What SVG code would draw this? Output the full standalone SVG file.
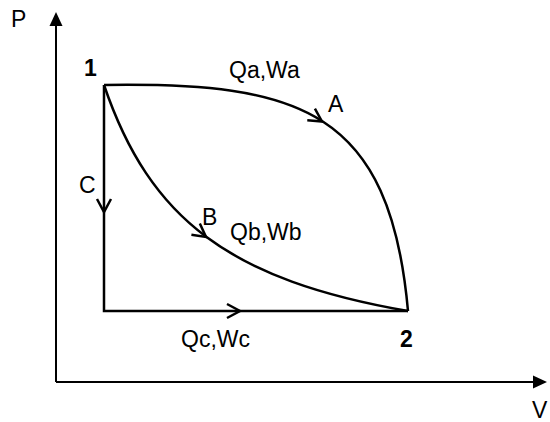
<svg xmlns="http://www.w3.org/2000/svg" width="550" height="422" viewBox="0 0 550 422">
<style>
.ln{fill:none;stroke:#000;stroke-width:2.5;stroke-linejoin:miter}
.ax{fill:none;stroke:#000;stroke-width:2}
.t{font-family:"Liberation Sans",Arial,sans-serif;font-size:23px;fill:#000}
.b{font-weight:bold}
</style>
<defs>
<path id="chev" d="M-13,-7 L0,0 L-13,7" fill="none" stroke="#000" stroke-width="2.5"/>
<path id="tri" d="M0,0 L-14,-6.5 L-14,6.5 Z" fill="#000"/>
</defs>
<rect width="550" height="422" fill="#fff"/>
<g id="axes">
<line class="ax" x1="56" y1="382" x2="56" y2="22"/>
<use href="#tri" transform="translate(56,12) rotate(-90)"/>
<line class="ax" x1="56" y1="382" x2="537" y2="382"/>
<use href="#tri" transform="translate(547,382)"/>
<text class="t" x="11" y="27">P</text>
<text class="t" x="532" y="418">V</text>
</g>
<g id="connectors">
<path id="pathA" class="ln" d="M104,85 C300,82 390,110 408,311"/>
<use href="#chev" transform="translate(322,121.5) rotate(33)"/>
<path id="pathB" class="ln" d="M104,85 C150,220 230,280 408,311"/>
<use href="#chev" transform="translate(206,237) rotate(37)"/>
<path id="pathC" class="ln" d="M104,85 L104,311 L408,311"/>
<use href="#chev" transform="translate(104,212) rotate(90)"/>
<use href="#chev" transform="translate(240,311)"/>
</g>
<g id="node1"><text class="t b" x="84" y="76" font-size="21">1</text></g>
<g id="node2"><text class="t b" x="400" y="347">2</text></g>
<g id="labels">
<text class="t" x="229" y="78">Qa,Wa</text>
<text class="t" x="328" y="112">A</text>
<text class="t" x="79" y="193">C</text>
<text class="t" x="202" y="225">B</text>
<text class="t" x="230" y="240">Qb,Wb</text>
<text class="t" x="181" y="347">Qc,Wc</text>
</g>
</svg>
